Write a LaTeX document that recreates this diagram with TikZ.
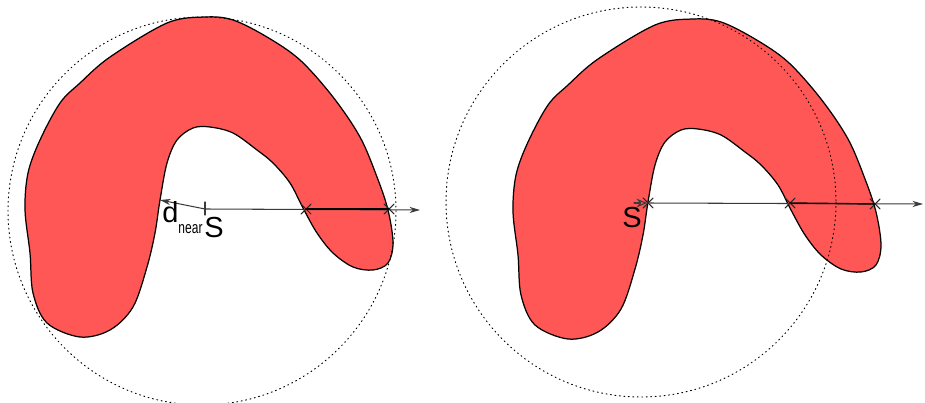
\documentclass[tikz,border=0pt]{standalone}
\usepackage{fontspec}
\setsansfont{Liberation Sans}
\usetikzlibrary{arrows.meta,shapes.misc}
\definecolor{BlobRed}{HTML}{FF5656}
\definecolor{RayGray}{HTML}{3A3A3A}

\tikzset{
  blob/.pic={
    \filldraw[fill=BlobRed,draw=black,line width=0.7pt] plot[smooth cycle,tension=0.55] coordinates {
      (205,17) (233,20) (267,37) (300,60) (333,97) (360,137) (377,177) (388,210)
      (393,243) (388,263) (373,270) (353,267) (333,253) (317,233) (303,208) (290,183)
      (273,163) (257,150) (233,133) (210,127) (193,128) (177,140) (167,163) (160,200)
      (155,233) (147,267) (133,307) (110,330) (80,337) (47,323) (33,293) (30,253)
      (25,210) (28,173) (40,140) (60,103) (80,83) (110,57) (167,23)};
  },
  xmark/.style={cross out,draw=black!85,line width=0.6pt,minimum size=5pt,inner sep=0pt},
  ray/.style={RayGray,line width=0.6pt},
  lbl/.style={font=\sffamily\fontsize{16.5}{18}\selectfont,inner sep=0pt}
}

\begin{document}
\begin{tikzpicture}[x=0.02cm,y=-0.02cm,line cap=round,line join=round]
  \useasboundingbox (0,0) rectangle (925,402);
  \pic at (0,0) {blob};
  \pic at (488,2) {blob};
  \draw[dotted,line width=0.55pt] (202,211) circle (194);
  \draw[dotted,line width=0.55pt] (641,202) circle (195);

  \coordinate (S1) at (205,209);
  \coordinate (endA) at (420,210);
  \coordinate (nearA) at (160,200);
  \node[xmark] (xA1) at (306,209) {};
  \node[xmark] (xA2) at (389,209) {};
  \draw[ray,-{Stealth[length=6pt,width=3.5pt]}] (S1) -- (endA);
  \draw[black,line width=0.8pt] (xA1.center) -- (xA2.center);
  \draw[ray,-{Stealth[length=6pt,width=3.5pt]}] (S1) -- (nearA);
  \draw[ray] (205,202) -- (205,215);
  \node[lbl] (sA) at (214,228) {S};
  \node[lbl,anchor=base west] (dA) at (162,222) {d\raisebox{-0.75ex}{\fontsize{9.5}{11}\selectfont\scalebox{0.72}[1]{near}}};

  \coordinate (S2) at (647,203);
  \coordinate (endB) at (923,204);
  \coordinate (tailB) at (634,203);
  \node[xmark] (xB0) at (648,203) {};
  \node[xmark] (xB1) at (790,203) {};
  \node[xmark] (xB2) at (875,204) {};
  \draw[ray,-{Stealth[length=6pt,width=3.5pt]}] (S2) -- (endB);
  \draw[black,line width=0.8pt] (xB1.center) -- (xB2.center);
  \draw[ray,-{Stealth[length=6pt,width=5pt,open]}] (tailB) -- (S2);
  \node[lbl] (sB) at (632,218) {S};
\end{tikzpicture}
\end{document}
